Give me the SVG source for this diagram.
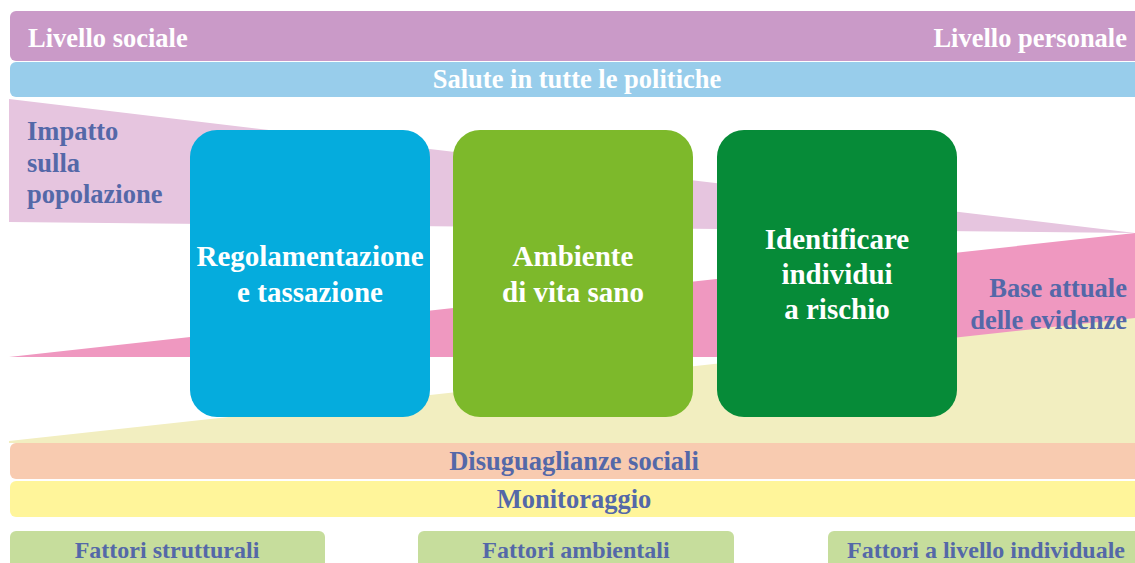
<svg xmlns="http://www.w3.org/2000/svg" width="1135" height="563" viewBox="0 0 1135 563">
<style>
text{font-family:"Liberation Serif","Times New Roman",serif;font-weight:bold}
.w{fill:#ffffff}
.b{fill:#5468A8}
.c{text-anchor:middle}
.e{text-anchor:end}
.box{font-size:29px}
.m{font-size:26.5px}
</style>
<rect width="1135" height="563" fill="#ffffff"/>
<g id="bands">
<rect x="10" y="11" width="1140" height="50" rx="6" fill="#CA9AC8"/>
<rect x="10" y="62" width="1140" height="35" rx="6" fill="#98CDEB"/>
<polygon points="9,99 1135,233 9,222" fill="#E6C5DF"/>
<polygon points="9,357 1135,233 1135,357" fill="#EF98C0"/>
<polygon points="9,441 1135,318 1135,443 9,443" fill="#F2EEC0"/>
<rect x="10" y="443" width="1140" height="36" rx="6" fill="#F8CBB0"/>
<rect x="10" y="481" width="1140" height="36" rx="6" fill="#FFF59A"/>
</g>
<g id="labels">
<text class="w m" x="28" y="47">Livello sociale</text>
<text class="w e m" x="1127" y="47">Livello personale</text>
<text class="w c m" x="577" y="88">Salute in tutte le politiche</text>
<text class="b m"><tspan x="27" y="140">Impatto</tspan><tspan x="27" y="172">sulla</tspan><tspan x="27" y="203">popolazione</tspan></text>
<text class="b e m"><tspan x="1127" y="297">Base attuale</tspan><tspan x="1127" y="329">delle evidenze</tspan></text>
<text class="b c m" x="574" y="470">Disuguaglianze sociali</text>
<text class="b c m" x="574" y="508">Monitoraggio</text>
</g>
<g id="box1">
<rect x="190" y="130" width="240" height="287" rx="27" fill="#05ACDD"/>
<text class="w c box"><tspan x="310" y="266">Regolamentazione</tspan><tspan x="310" y="302">e tassazione</tspan></text>
</g>
<g id="box2">
<rect x="453" y="130" width="240" height="287" rx="27" fill="#7DB92B"/>
<text class="w c box"><tspan x="573" y="266">Ambiente</tspan><tspan x="573" y="302">di vita sano</tspan></text>
</g>
<g id="box3">
<rect x="717" y="130" width="240" height="287" rx="27" fill="#068B38"/>
<text class="w c box"><tspan x="837" y="249">Identificare</tspan><tspan x="837" y="284">individui</tspan><tspan x="837" y="319">a rischio</tspan></text>
</g>
<g id="f1">
<rect x="10" y="531" width="315" height="50" rx="6" fill="#C6DD9C"/>
<text class="b c" x="167" y="558" font-size="24">Fattori strutturali</text>
</g>
<g id="f2">
<rect x="418" y="531" width="316" height="50" rx="6" fill="#C6DD9C"/>
<text class="b c" x="576" y="558" font-size="24">Fattori ambientali</text>
</g>
<g id="f3">
<rect x="828" y="531" width="320" height="50" rx="6" fill="#C6DD9C"/>
<text class="b c" x="986" y="558" font-size="24">Fattori a livello individuale</text>
</g>
<g id="connectors"/>
</svg>
